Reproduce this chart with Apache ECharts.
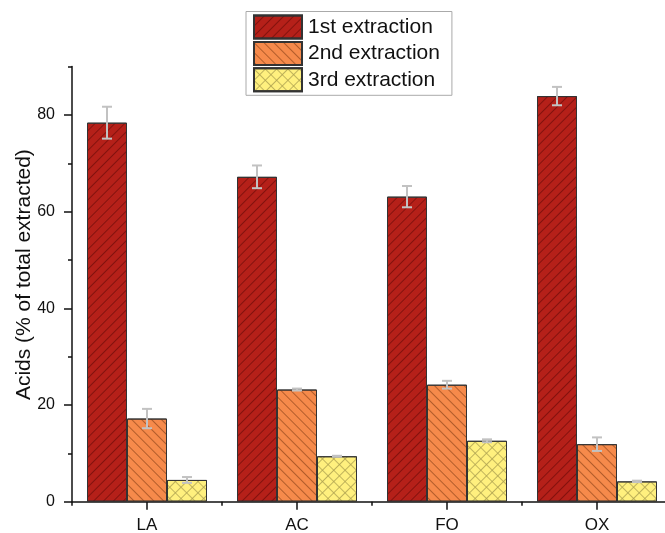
<!DOCTYPE html>
<html>
<head>
<meta charset="utf-8">
<script src="https://cdn.jsdelivr.net/npm/echarts@6/dist/echarts.min.js"></script>
<style>
  html, body { margin: 0; padding: 0; background: #fff; }
  #chart { width: 665px; height: 533px; }
</style>
</head>
<body>
<div id="chart"></div>
<script>
// Acid fractions recovered in three successive extractions
const categories = ['LA', 'AC', 'FO', 'OX'];
const seriesNames = ['1st extraction', '2nd extraction', '3rd extraction'];
const firstExtraction  = [78.4, 67.2, 63.1, 83.9];
const secondExtraction = [17.2, 23.2, 24.2, 11.9];
const thirdExtraction  = [4.5, 9.4, 12.6, 4.2];
// standard deviations (error bar half-lengths)
const firstError  = [3.3, 2.35, 2.2, 1.9];
const secondError = [2.0, 0.2, 0.8, 1.4];
const thirdError  = [0.6, 0.1, 0.3, 0.15];
const yMajorTicks = [0, 20, 40, 60, 80];

const FONT = '"Liberation Sans", Arial, sans-serif';
const TEXT = '#111';
const BAR_W = 40;
const GRID_LEFT = 72, GRID_BOTTOM = 31.3, GRID_WIDTH = 600;
const Y_MAX = 90;
const PLOT_TOP = 66.6;
const PLOT_H = 533 - GRID_BOTTOM - PLOT_TOP;        // height spanning 0..90
const MAJOR_TOP = 533 - GRID_BOTTOM - PLOT_H * (yMajorTicks[yMajorTicks.length - 1] / Y_MAX);

const values = [firstExtraction, secondExtraction, thirdExtraction];
const errors = [firstError, secondError, thirdError];

const fills = ['#B52019', '#F68A4B', '#FFF07E'];
const decals = [
  { symbol: 'rect', symbolSize: 1, dashArrayX: [1, 0], dashArrayY: [0.8, 5.2], rotation: -Math.PI / 4, color: 'rgba(70,0,0,0.45)' },
  { symbol: 'rect', symbolSize: 1, dashArrayX: [1, 0], dashArrayY: [0.8, 5.2], rotation: Math.PI / 4, color: 'rgba(110,45,10,0.5)' },
  { symbol: 'path://M0,0 L10,0 L10,1 L0,1 Z M0,0 L1,0 L1,10 L0,10 Z', symbolSize: 1,
    dashArrayX: [8, 0], dashArrayY: [8, 0], rotation: Math.PI / 4, color: 'rgba(120,110,50,0.6)' }
];

const barSeries = seriesNames.map((name, i) => ({
  name,
  type: 'bar',
  xAxisIndex: 0,
  yAxisIndex: 0,
  barWidth: BAR_W,
  barGap: '0%',
  data: values[i],
  itemStyle: { color: fills[i], borderColor: '#333', borderWidth: 1, decal: decals[i] },
  emphasis: { disabled: true },
  z: 2
}));

// error bar records: [category index, low, high, series index]
const errorData = [];
values.forEach((vals, k) => {
  vals.forEach((v, c) => errorData.push([c, v - errors[k][c], v + errors[k][c], k]));
});

const errorSeries = {
  type: 'custom',
  xAxisIndex: 0,
  yAxisIndex: 0,
  data: errorData,
  encode: { x: 0, y: [1, 2] },
  z: 5,
  silent: true,
  renderItem(params, api) {
    const c = api.value(0), lo = api.value(1), hi = api.value(2), k = api.value(3);
    const cx = api.coord([c, 0])[0] + (k - 1) * BAR_W;
    const yTop = api.coord([c, hi])[1];
    const yBot = api.coord([c, lo])[1];
    const half = 5;
    const style = { stroke: '#C2C2C2', lineWidth: 2, fill: null };
    return {
      type: 'group',
      children: [
        { type: 'line', shape: { x1: cx, y1: yTop, x2: cx, y2: yBot }, style },
        { type: 'line', shape: { x1: cx - half, y1: yTop, x2: cx + half, y2: yTop }, style },
        { type: 'line', shape: { x1: cx - half, y1: yBot, x2: cx + half, y2: yBot }, style }
      ]
    };
  }
};

const axisLine = { show: true, lineStyle: { color: '#111', width: 1.5 } };

const option = {
  animation: false,
  backgroundColor: '#fff',
  textStyle: { fontFamily: FONT, color: TEXT },
  legend: {
    data: seriesNames,
    orient: 'vertical',
    left: 246,
    top: 11.5,
    icon: 'rect',
    itemWidth: 48,
    itemHeight: 23,
    itemGap: 1.4,
    padding: [3, 12, 3, 7],
    borderColor: '#AAAAAA',
    borderWidth: 1,
    backgroundColor: '#fff',
    selectedMode: false,
    textStyle: { fontFamily: FONT, fontSize: 21, color: TEXT, padding: [0, 0, 0, 1] }
  },
  grid: [
    { left: GRID_LEFT, width: GRID_WIDTH, top: PLOT_TOP, bottom: GRID_BOTTOM, containLabel: false, outerBoundsMode: 'none' },
    { left: GRID_LEFT, width: GRID_WIDTH, top: MAJOR_TOP, bottom: GRID_BOTTOM, containLabel: false, outerBoundsMode: 'none' }
  ],
  xAxis: [
    {
      type: 'category', gridIndex: 0, data: categories,
      axisLine,
      axisTick: { show: true, alignWithLabel: true, length: 8, lineStyle: { color: '#111', width: 1.5 } },
      axisLabel: { fontFamily: FONT, fontSize: 17, color: TEXT, margin: 15 },
      splitLine: { show: false }
    },
    {
      // boundary ticks between categories
      type: 'category', gridIndex: 0, data: categories, position: 'bottom',
      axisLine: { show: false },
      axisTick: { show: true, length: 4, lineStyle: { color: '#111', width: 1.5 } },
      axisLabel: { show: false },
      splitLine: { show: false }
    },
    {
      type: 'category', gridIndex: 1, data: categories, show: false
    }
  ],
  yAxis: [
    {
      type: 'value', gridIndex: 0, min: 0, max: Y_MAX, interval: 10,
      name: 'Acids (% of total extracted)',
      nameLocation: 'middle',
      nameGap: 37,
      nameTextStyle: { fontFamily: FONT, fontSize: 21, color: TEXT, padding: [0, 0, 0, 19] },
      axisLine,
      axisTick: { show: true, length: 4, lineStyle: { color: '#111', width: 1.5 } },
      axisLabel: { show: false },
      splitLine: { show: false }
    },
    {
      type: 'value', gridIndex: 1, min: 0, max: yMajorTicks[yMajorTicks.length - 1], interval: 20,
      axisLine: { show: false },
      axisTick: { show: true, length: 8, lineStyle: { color: '#111', width: 1.5 } },
      axisLabel: { fontFamily: FONT, fontSize: 16, color: TEXT, margin: 17 },
      splitLine: { show: false }
    }
  ],
  series: [...barSeries, errorSeries]
};

const chart = echarts.init(document.getElementById('chart'), null, { renderer: 'canvas' });
chart.setOption(option);
</script>
</body>
</html>
